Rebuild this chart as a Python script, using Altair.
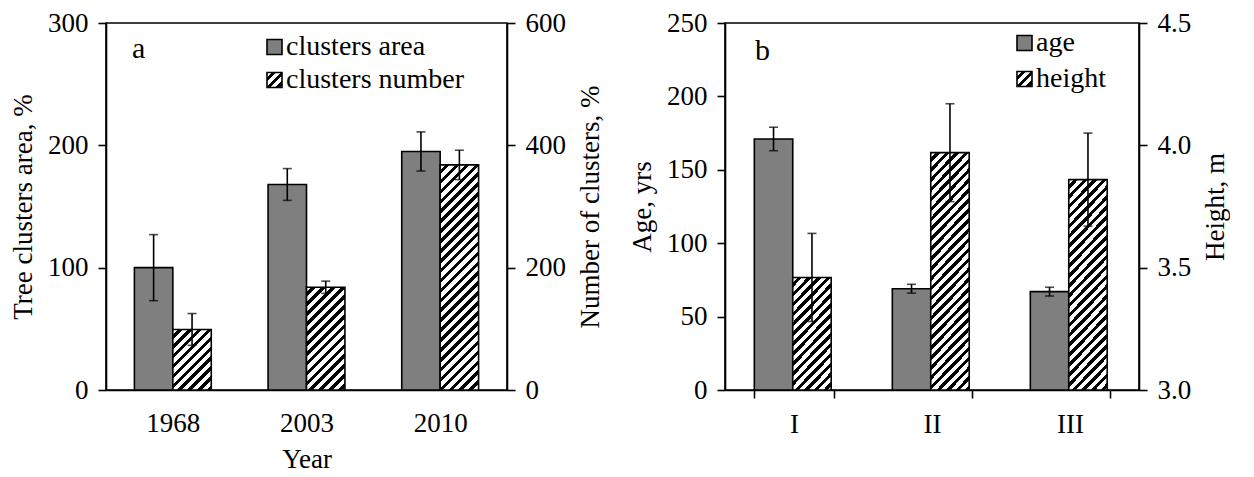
import math
import altair as alt
import pandas as pd

# ---------------- data ----------------
years = ["1968", "2003", "2010"]
area = [100, 168, 195]
area_err = [27, 13, 16]
number = [99, 168, 368]
number_err = [26, 10, 24]

classes = ["I", "II", "III"]
age = [171, 69, 67]
age_err = [8, 3, 3]
height = [3.46, 3.97, 3.86]
height_err = [0.18, 0.20, 0.19]

# ---------------- style ----------------
FONT = "Liberation Serif"
GRAY = "#7f7f7f"
PLOT_H = 367
W_A = 401
W_B = 414
PAD = 0.425
PERIOD = 7.0
DUTY = 0.47
SW = 1.6
TICK_FS = 27
TITLE_FS = 27
LEG_FS = 28


def hatch(w, h, period=PERIOD, duty=DUTY):
    """Diagonal '/' hatch as a hard-stop linear gradient in bbox units."""
    L = w + h
    P = period * math.sqrt(2)
    stops = []
    k = 0
    while k * P < L:
        c0 = k * P
        c1 = c0 + P * (1 - duty)
        c2 = c0 + P
        for c, col in ((c0, "white"), (c1, "white"), (c1, "black"), (c2, "black")):
            stops.append({"offset": min(c / L, 1.0), "color": col})
        k += 1
    s = w * (w + h) / (w * w + h * h)
    return {"gradient": "linear", "x1": 0, "y1": 0, "x2": s, "y2": s * h / w,
            "stops": stops}


def panel(cats, v1, e1, v2, e2, dom1, dom2, ticks1, ticks2, fmt2, width,
          xtitle, xticks, letter, leg1, leg2, leg_x, leg_y, letter_xy, title1, title2):
    df = pd.DataFrame({"cat": cats, "v1": v1, "e1": e1, "v2": v2, "e2": e2})
    base = alt.Chart(df)
    xaxis = alt.Axis(title=xtitle, ticks=xticks, tickBand="extent", tickSize=8,
                     labelPadding=(13 if xticks else 20), titlePadding=10, labelAngle=0)
    X = alt.X("cat:N", sort=cats, scale=alt.Scale(paddingInner=PAD, paddingOuter=PAD / 2),
              axis=xaxis)
    XO = alt.XOffset("s:N", scale=alt.Scale(domain=["a", "b"], paddingInner=0, paddingOuter=0))
    ax1 = alt.Axis(title=title1, values=ticks1, orient="left", labelPadding=10, titlePadding=10)
    ax2 = alt.Axis(title=title2, values=ticks2, orient="right", labelPadding=10, titlePadding=12,
                   format=fmt2, titleAngle=270, titleBaseline="top")
    sc1 = alt.Scale(domain=dom1, nice=False, zero=False)
    sc2 = alt.Scale(domain=dom2, nice=False, zero=False)

    g1 = base.transform_calculate(s="'a'", b0=str(dom1[0]))
    bar1 = g1.mark_bar(fill=GRAY, stroke="black", strokeWidth=SW).encode(
        x=X, xOffset=XO, y=alt.Y("v1:Q", scale=sc1, axis=ax1), y2="b0:Q")
    err1 = g1.transform_calculate(lo="datum.v1 - datum.e1", hi="datum.v1 + datum.e1")
    rule1 = err1.mark_rule(color="black", strokeWidth=SW).encode(
        x=X, xOffset=XO, y=alt.Y("lo:Q", scale=sc1, axis=ax1), y2="hi:Q")
    cap1 = err1.transform_fold(["lo", "hi"], as_=["k", "val"]).mark_tick(
        orient="horizontal", size=9, thickness=SW, color="black").encode(
        x=X, xOffset=XO, y=alt.Y("val:Q", scale=sc1, axis=ax1))
    grp1 = alt.layer(bar1, rule1, cap1)

    bw = width / len(cats) * (1 - PAD) / 2
    g2 = base.transform_calculate(s="'b'", b0=str(dom2[0]))
    hbars = []
    for c, v in zip(cats, v2):
        h = (v - dom2[0]) / (dom2[1] - dom2[0]) * PLOT_H
        hbars.append(g2.transform_filter(alt.datum.cat == c).mark_bar(
            fill=hatch(bw, h), stroke="black", strokeWidth=SW).encode(
            x=X, xOffset=XO, y=alt.Y("v2:Q", scale=sc2, axis=ax2), y2="b0:Q"))
    err2 = g2.transform_calculate(lo="datum.v2 - datum.e2", hi="datum.v2 + datum.e2")
    rule2 = err2.mark_rule(color="black", strokeWidth=SW).encode(
        x=X, xOffset=XO, y=alt.Y("lo:Q", scale=sc2, axis=ax2), y2="hi:Q")
    cap2 = err2.transform_fold(["lo", "hi"], as_=["k", "val"]).mark_tick(
        orient="horizontal", size=9, thickness=SW, color="black").encode(
        x=X, xOffset=XO, y=alt.Y("val:Q", scale=sc2, axis=ax2))
    grp2 = alt.layer(*hbars, rule2, cap2)

    sq = 15
    lab = pd.DataFrame({"t": [letter]})
    letter_mark = alt.Chart(lab).mark_text(font=FONT, fontSize=30, align="left",
                                           baseline="middle", color="black").encode(
        text="t:N", x=alt.value(letter_xy[0]), y=alt.value(letter_xy[1]))
    sw1 = alt.Chart(lab).mark_rect(fill=GRAY, stroke="black", strokeWidth=SW).encode(
        x=alt.value(leg_x), x2=alt.value(leg_x + sq),
        y=alt.value(leg_y[0] - sq / 2), y2=alt.value(leg_y[0] + sq / 2))
    sw2 = alt.Chart(lab).mark_rect(fill=hatch(sq, sq, period=6.5, duty=0.5), stroke="black",
                                   strokeWidth=SW).encode(
        x=alt.value(leg_x), x2=alt.value(leg_x + sq),
        y=alt.value(leg_y[1] - sq / 2), y2=alt.value(leg_y[1] + sq / 2))
    tx1 = alt.Chart(pd.DataFrame({"t": [leg1]})).mark_text(
        font=FONT, fontSize=LEG_FS, align="left", baseline="middle", color="black").encode(
        text="t:N", x=alt.value(leg_x + sq + 4), y=alt.value(leg_y[0]))
    tx2 = alt.Chart(pd.DataFrame({"t": [leg2]})).mark_text(
        font=FONT, fontSize=LEG_FS, align="left", baseline="middle", color="black").encode(
        text="t:N", x=alt.value(leg_x + sq + 4), y=alt.value(leg_y[1]))

    return alt.layer(grp1, grp2, letter_mark, sw1, sw2, tx1, tx2).resolve_scale(
        y="independent").properties(width=width, height=PLOT_H)


pa = panel(years, area, area_err, number, number_err, [0, 300], [0, 600],
           [0, 100, 200, 300], [0, 200, 400, 600], "d", W_A, "Year", False, "a",
           "clusters area", "clusters number", 161, [24, 57], (26, 26),
           "Tree clusters area, %", "Number of clusters, %")
pb = panel(classes, age, age_err, height, height_err, [0, 250], [3.0, 4.5],
           [0, 50, 100, 150, 200, 250], [3.0, 3.5, 4.0, 4.5], ".1f", W_B, None, True, "b",
           "age", "height", 292, [20, 56], (30, 28),
           "Age, yrs", "Height, m")

chart = alt.hconcat(pa, pb, spacing=22).properties(
    padding={"left": 0, "top": 0, "right": 0, "bottom": 0}
).configure_view(stroke="black", strokeWidth=SW).configure_axis(
    domainColor="black", domainWidth=SW, tickColor="black", tickWidth=SW, tickSize=8,
    labelFont=FONT, labelFontSize=TICK_FS, labelColor="black",
    titleFont=FONT, titleFontSize=TITLE_FS, titleFontWeight="normal", titleColor="black",
    grid=False
)

chart.save("out.html", embed_options={"renderer": "svg", "actions": False})
